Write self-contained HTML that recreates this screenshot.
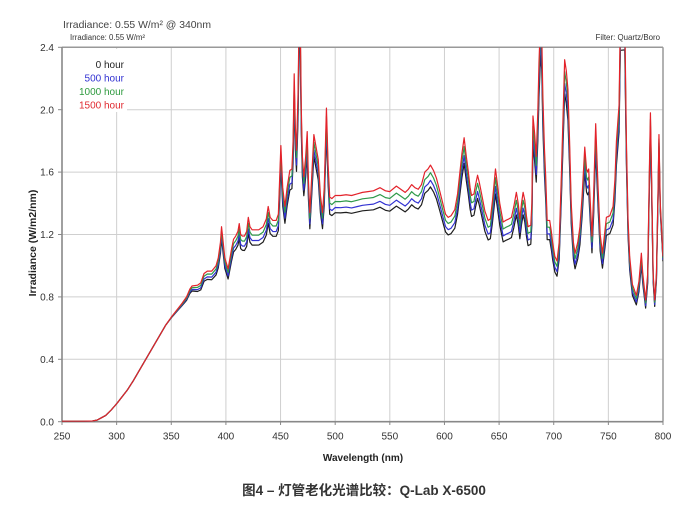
<!DOCTYPE html>
<html><head><meta charset="utf-8">
<style>
html,body{margin:0;padding:0;background:#fff;}
svg{display:block;}
text{font-family:"Liberation Sans","Noto Sans CJK SC",sans-serif;}
</style></head>
<body>
<svg id="s" width="700" height="512" viewBox="0 0 700 512" xmlns="http://www.w3.org/2000/svg">
<rect x="0" y="0" width="700" height="512" fill="#fff"/>
<defs><clipPath id="cp"><rect x="62" y="47.3" width="601" height="374.4"/></clipPath></defs>
<g id="grid" stroke="#cfcfcf" stroke-width="1"></g>
<g id="frame"></g>
<rect x="63" y="49" width="64" height="63" fill="#fff"/>
<g id="curves" clip-path="url(#cp)" fill="none" stroke-width="1.2" stroke-linejoin="round"></g>
<g id="labels" font-size="10" fill="#333"></g>
<text x="63" y="28" font-size="10.4" fill="#444">Irradiance: 0.55 W/m² @ 340nm</text>
<text x="70" y="40" font-size="7.8" fill="#333">Irradiance: 0.55 W/m²</text>
<text x="660" y="40" font-size="7.9" fill="#333" text-anchor="end">Filter: Quartz/Boro</text>
<g font-size="10" text-anchor="end">
<text x="124" y="68" fill="#222">0 hour</text>
<text x="124" y="81.5" fill="#3232d2">500 hour</text>
<text x="124" y="95" fill="#2e9a3e">1000 hour</text>
<text x="124" y="108.5" fill="#e02a30">1500 hour</text>
</g>
<text x="363" y="461" font-size="10" font-weight="bold" fill="#222" text-anchor="middle">Wavelength (nm)</text>
<text transform="translate(36,243) rotate(-90)" font-size="10.5" font-weight="bold" fill="#222" text-anchor="middle">Irradiance (W/m2/nm)</text>
<text x="364" y="495" font-size="13.5" font-weight="bold" fill="#333" text-anchor="middle">图4 – 灯管老化光谱比较：Q-Lab X-6500</text>
</svg>
<script>
(function(){
var NS="http://www.w3.org/2000/svg";
function X(l){return 62+(l-250)*601/550;}
function Y(v){return 421.7-v*156;}
function el(p,t,a,txt){var e=document.createElementNS(NS,t);for(var k in a)e.setAttribute(k,a[k]);if(txt!==undefined)e.textContent=txt;p.appendChild(e);return e;}
var grid=document.getElementById('grid'),frame=document.getElementById('frame'),labels=document.getElementById('labels'),curves=document.getElementById('curves');
for(var l=300;l<800;l+=50){el(grid,'line',{x1:X(l),x2:X(l),y1:47.3,y2:421.7});}
for(var i=1;i<6;i++){var y=Y(i*0.4);el(grid,'line',{x1:62,x2:663,y1:y,y2:y});}
el(frame,'line',{x1:62,x2:663,y1:47.3,y2:47.3,stroke:'#999','stroke-width':1.5});
el(frame,'line',{x1:663,x2:663,y1:47.3,y2:421.7,stroke:'#999','stroke-width':1.5});
el(frame,'line',{x1:62,x2:62,y1:47.3,y2:421.7,stroke:'#888','stroke-width':1.6});
el(frame,'line',{x1:62,x2:663,y1:421.7,y2:421.7,stroke:'#888','stroke-width':1.6});
for(var i=0;i<=6;i++){var y=Y(i*0.4);el(frame,'line',{x1:58,x2:62,y1:y,y2:y,stroke:'#888','stroke-width':1});
 el(labels,'text',{x:54,y:y+3.6,'text-anchor':'end'},(i*0.4).toFixed(1));}
for(var l=250;l<=800;l+=50){el(frame,'line',{x1:X(l),x2:X(l),y1:421.7,y2:425,stroke:'#888','stroke-width':1});
 el(labels,'text',{x:X(l),y:439.5,'text-anchor':'middle'},String(l));}
var R=[[250,0.003],[270,0.003],[278,0.005],[282,0.01],[286,0.025],[290,0.04],[295,0.075],[300,0.115],[305,0.16],[310,0.205],[315,0.26],[320,0.32],[325,0.38],[330,0.44],[335,0.5],[340,0.56],[345,0.62],[350,0.67],[355,0.715],[360,0.76],[364,0.8],[367,0.85],[369,0.87],[374,0.875],[377,0.89],[380,0.95],[383,0.965],[387,0.965],[391,1.0],[393,1.05],[395,1.15],[396,1.25],[397.5,1.15],[399,1.05],[402,0.98],[405,1.1],[407,1.17],[409,1.19],[411,1.22],[412.2,1.27],[413.5,1.2],[415,1.19],[417,1.19],[419,1.22],[420.5,1.31],[422,1.25],[424,1.23],[430,1.23],[434,1.25],[437,1.3],[438.7,1.38],[440.5,1.31],[443,1.29],[446,1.29],[448,1.33],[450.3,1.77],[452,1.5],[454,1.38],[456,1.5],[458.5,1.61],[460.4,1.62],[461.5,1.8],[462.5,2.23],[463.5,1.9],[464.6,1.74],[466,2.1],[467,2.6],[468,2.6],[469,2.0],[470,1.7],[471.3,1.57],[473,1.7],[474.4,1.86],[475.5,1.55],[476.8,1.34],[478,1.5],[480.5,1.84],[482,1.78],[484.5,1.68],[486.5,1.45],[488.4,1.34],[490,1.5],[492,2.01],[493.5,1.65],[495,1.44],[497,1.43],[500,1.45],[505,1.45],[510,1.455],[515,1.45],[520,1.46],[525,1.47],[530,1.475],[535,1.48],[541,1.5],[546,1.48],[550,1.475],[556,1.51],[560,1.49],[564,1.47],[567,1.49],[570,1.52],[573,1.5],[576,1.49],[579,1.52],[582,1.6],[585,1.62],[587.2,1.645],[590,1.61],[592.7,1.56],[596,1.47],[598.8,1.39],[601,1.33],[603.4,1.31],[606,1.32],[609.5,1.36],[612,1.46],[614,1.59],[616,1.72],[618,1.82],[620,1.7],[621.7,1.61],[623.5,1.5],[624.8,1.45],[627,1.46],[628.5,1.52],[630.3,1.58],[632,1.53],[634,1.46],[637,1.35],[640,1.29],[642,1.3],[644,1.42],[646.7,1.62],[648.5,1.52],[650.6,1.4],[653.7,1.28],[656,1.29],[659,1.3],[661.3,1.31],[663.5,1.38],[665.8,1.47],[667.5,1.4],[669,1.3],[670.5,1.4],[672,1.47],[673.5,1.42],[675,1.32],[676.5,1.25],[679,1.26],[680,1.4],[681,1.96],[682.5,1.85],[684,1.7],[685.5,2.0],[686.5,2.3],[688,2.6],[689,2.5],[690,2.1],[691.5,1.75],[692.6,1.58],[694,1.29],[696.3,1.29],[697.8,1.22],[699,1.15],[701,1.06],[703,1.03],[705,1.15],[707,1.58],[708.5,1.95],[710,2.32],[711.5,2.25],[713,2.13],[714.5,1.8],[716,1.4],[718,1.15],[719.5,1.08],[722,1.15],[724,1.25],[726,1.45],[728.4,1.76],[730,1.62],[731,1.6],[732,1.62],[733.5,1.4],[735,1.19],[736.5,1.45],[738.4,1.91],[739.5,1.7],[740.6,1.5],[742.5,1.2],[744.6,1.08],[746.5,1.2],[748.2,1.31],[751.3,1.32],[754.3,1.38],[756,1.55],[757.4,1.8],[759.8,2.03],[761,2.6],[765,2.6],[766.5,1.8],[768,1.3],[769.5,1.06],[772,0.88],[775.6,0.81],[778,0.9],[780.2,1.08],[781.5,0.95],[784.1,0.78],[786,0.95],[787.5,1.6],[788.5,1.98],[789.5,1.6],[791,0.95],[792.4,0.78],[794,0.95],[795.5,1.5],[796.3,1.84],[797.5,1.4],[800,1.06]];
var D=[[250,0],[345,0],[360,0.02],[376,0.05],[400,0.065],[420,0.08],[500,0.076],[550,0.085],[600,0.085],[650,0.1],[700,0.095],[740,0.09],[770,0.082],[790,0.06],[800,0.03]];
function dd(l){for(var i=1;i<D.length;i++){if(l<=D[i][0]){var a=D[i-1],b=D[i];return a[1]+(b[1]-a[1])*(l-a[0])/(b[0]-a[0]);}}return D[D.length-1][1];}
var series=[[1.0,'#1e1e1e'],[0.7,'#3232d2'],[0.35,'#2e9a4a'],[0,'#e3222a']];
series.forEach(function(s){
 var pts=R.map(function(p){var v=p[1]*(1-s[0]*dd(p[0]));return X(p[0]).toFixed(2)+','+Y(v).toFixed(2);}).join(' ');
 el(curves,'polyline',{points:pts,stroke:s[1]});
});
})();
</script>
</body></html>
